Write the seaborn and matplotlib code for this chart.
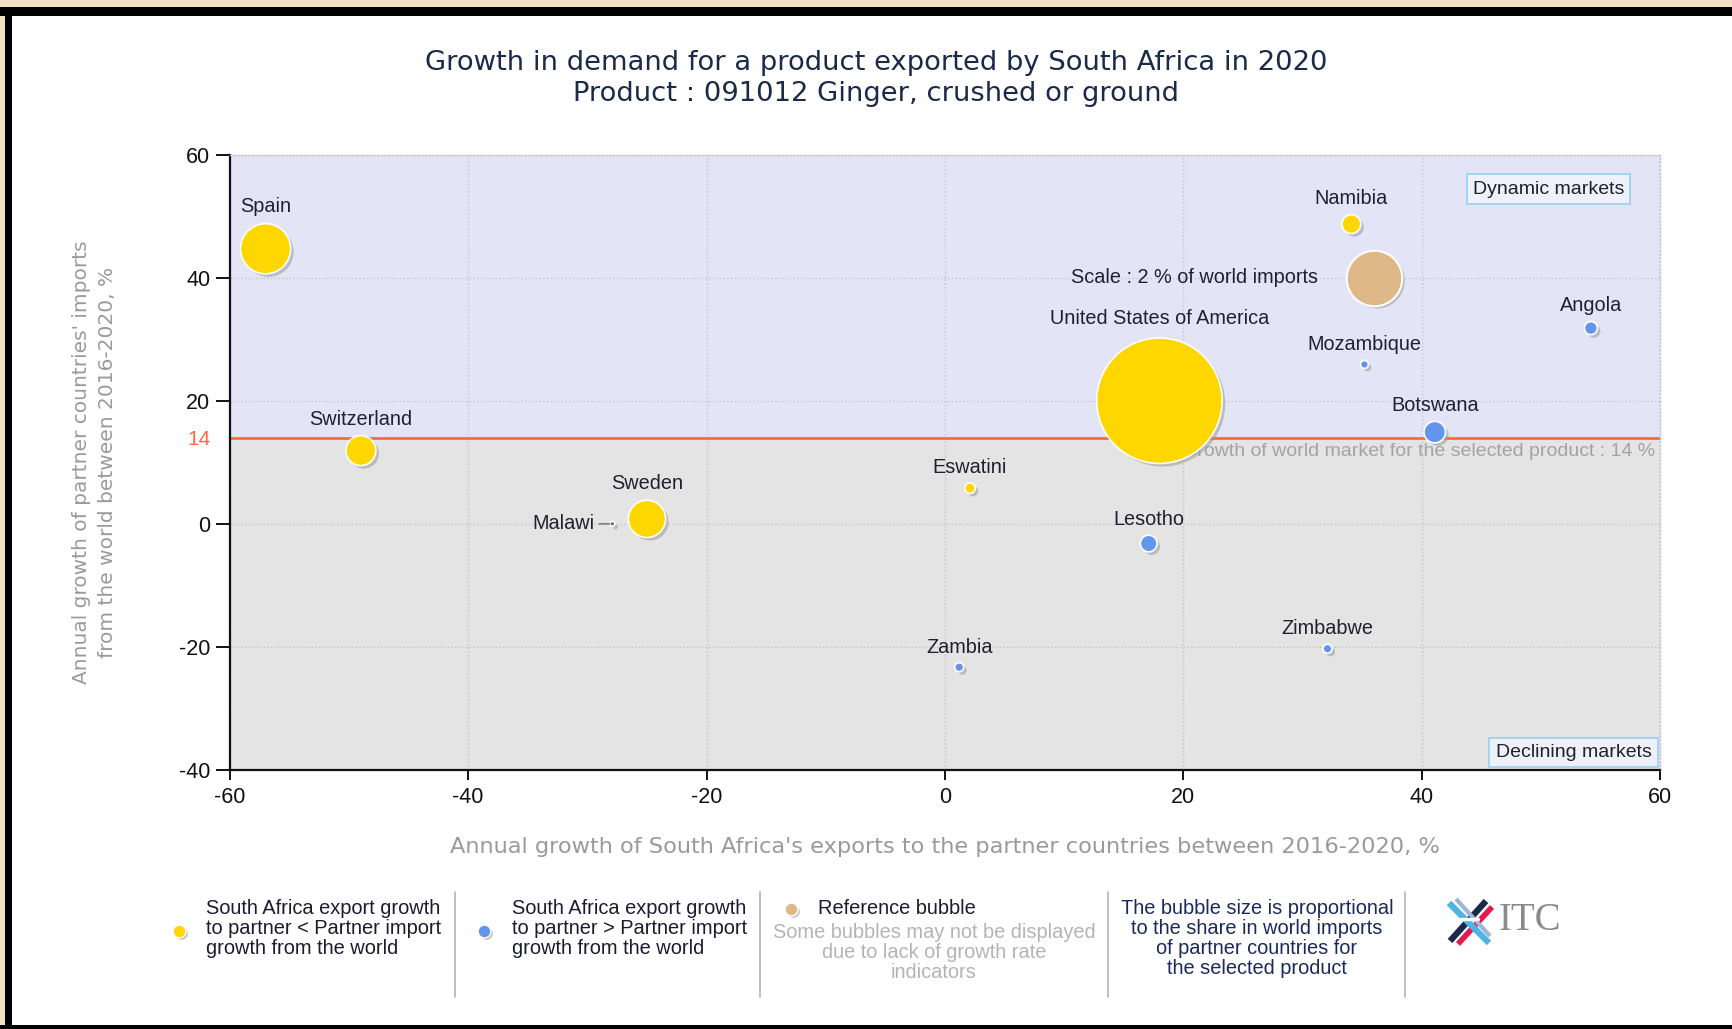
import numpy as np
import pandas as pd
import matplotlib
matplotlib.use("Agg")
import matplotlib.pyplot as plt
import matplotlib.transforms as mtransforms
from matplotlib.patches import Rectangle
import seaborn as sns

# ---- data -------------------------------------------------------------
countries = ["United States of America", "Spain", "Sweden", "Switzerland",
             "Botswana", "Namibia", "Lesotho", "Angola", "Eswatini",
             "Zambia", "Zimbabwe", "Mozambique", "Malawi"]
export_growth = [18.0, -57.0, -25.0, -49.0, 41.1, 34.1, 17.1, 54.2, 2.1,
                 1.2, 32.1, 35.2, -27.9]
import_growth = [20.0, 44.7, 0.8, 11.9, 14.9, 48.7, -3.2, 31.8, 5.8,
                 -23.3, -20.3, 25.9, 0.0]
world_share = [10.2, 1.63, 0.90, 0.58, 0.30, 0.23, 0.18, 0.11, 0.073,
               0.052, 0.052, 0.041, 0.016]
group = ["lt", "lt", "lt", "lt", "gt", "lt", "gt", "gt", "lt",
         "gt", "gt", "gt", "na"]

ref_x, ref_y, ref_share = [36.0], [40.0], [2.0]
world_growth = 14

x_ticks = [-60, -40, -20, 0, 20, 40, 60]
y_ticks = [-40, -20, 0, 14, 20, 40, 60]

# ---- styling ------------------------------------------------------------
sns.set_style("ticks")
plt.rcParams["font.family"] = ["Liberation Sans", "DejaVu Sans"]

YELLOW = "#FFD700"
BLUE = "#6495ED"
TAN = "#DEB887"
GREYDOT = "#707080"
UPPER_BG = "#E4E4F7"
LOWER_BG = "#E4E4E4"
REDLINE = "#FF6A3D"
LABEL_C = "#20202e"

PT_PER_SHARE = 800.0          # marker area (pt^2) per % of world imports
SIZE_NORM = (0, 12)
SIZE_RANGE = (0, PT_PER_SHARE * 12)

df = pd.DataFrame({"country": countries, "export": export_growth,
                   "import": import_growth, "share": world_share,
                   "group": group})
df = df.sort_values("share", ascending=False)
ref = pd.DataFrame({"export": ref_x, "import": ref_y, "share": ref_share})

fig = plt.figure(figsize=(17.32, 10.29), dpi=100, facecolor="white")

# pixel-space canvas for frame, legend and logo
deco = fig.add_axes([0, 0, 1, 1], zorder=0)
deco.set_xlim(0, 1732)
deco.set_ylim(1029, 0)
deco.axis("off")

ax = fig.add_axes([0.13268, 0.25170, 0.82575, 0.59806], zorder=1)
ax.set_xlim(-60, 60)
ax.set_ylim(-40, 60)
ax.set_facecolor(LOWER_BG)
ax.axhspan(world_growth, 60, color=UPPER_BG, zorder=0, lw=0)
ax.axhline(world_growth, color=REDLINE, lw=2, zorder=1)

ax.set_xticks(x_ticks)
ax.set_yticks(y_ticks)
ax.grid(True, linestyle=":", color="#c4c4c4", lw=1, zorder=0.5)
ax.set_axisbelow(True)
for side in ["top", "right"]:
    ax.spines[side].set_linestyle(":")
    ax.spines[side].set_color("#c4c4c4")
    ax.spines[side].set_linewidth(1)
for side in ["left", "bottom"]:
    ax.spines[side].set_color("#111111")
    ax.spines[side].set_linewidth(1.6)
ax.tick_params(axis="y", length=10, width=1.4, color="#111111",
               labelsize=15.5, pad=4, labelcolor="#111111")
ax.tick_params(axis="x", length=7, width=1.4, color="#111111",
               labelsize=15.5, pad=5, labelcolor="#111111")
ax.set_xticklabels([str(t) for t in x_ticks])
ax.set_yticklabels([str(t) for t in y_ticks])
for tick in ax.yaxis.get_major_ticks():
    if tick.get_loc() == world_growth:
        tick.tick1line.set_visible(False)
        tick.gridline.set_visible(False)
        tick.label1.set_color(REDLINE)
        tick.label1.set_fontsize(15)

ax.text(59.6, world_growth - 0.9,
        "Growth of world market for the selected product : 14 %",
        ha="right", va="top", fontsize=14, color="#a4a4a4", zorder=1.5)

# drop shadows under the bubbles
shadow_tr = ax.transData + mtransforms.ScaledTranslation(
    2.2 / 72, -2.2 / 72, fig.dpi_scale_trans)

for data in (ref, df):
    sns.scatterplot(data=data, x="export", y="import", size="share",
                    sizes=SIZE_RANGE, size_norm=SIZE_NORM, color="#9a9a9a",
                    alpha=0.55, edgecolor="none", legend=False, ax=ax,
                    transform=shadow_tr, zorder=2)

sns.scatterplot(data=ref, x="export", y="import", size="share",
                sizes=SIZE_RANGE, size_norm=SIZE_NORM, color=TAN,
                edgecolor="white", linewidth=1.5, legend=False, ax=ax,
                zorder=3)
sns.scatterplot(data=df, x="export", y="import", size="share",
                sizes=SIZE_RANGE, size_norm=SIZE_NORM, hue="group",
                hue_order=["lt", "gt", "na"],
                palette={"lt": YELLOW, "gt": BLUE, "na": GREYDOT},
                edgecolor="white", linewidth=1.2, legend=False, ax=ax,
                zorder=3)
ax.set_xlabel("")
ax.set_ylabel("")


def radius_pt(share):
    return np.sqrt(share * PT_PER_SHARE) / 2.0


for _, row in df.iterrows():
    r = radius_pt(row["share"])
    if row["country"] == "Malawi":
        ax.annotate(row["country"], (row["export"], row["import"]),
                    xytext=(-13, 0), textcoords="offset points",
                    ha="right", va="center", fontsize=14.3, color=LABEL_C,
                    zorder=4,
                    arrowprops=dict(arrowstyle="-", color="#808080", lw=1.2,
                                    shrinkA=1, shrinkB=2))
    else:
        ax.annotate(row["country"], (row["export"], row["import"]),
                    xytext=(0, 1.07 * r + 11), textcoords="offset points",
                    ha="center", va="center", fontsize=14.3, color=LABEL_C,
                    zorder=4)

ax.annotate("Scale : 2 % of world imports", (ref_x[0], ref_y[0]),
            xytext=(-(radius_pt(ref_share[0]) + 20), 0),
            textcoords="offset points", ha="right", va="center",
            fontsize=14.3, color=LABEL_C, zorder=4)

box_style = dict(boxstyle="square,pad=0.32", facecolor="#EEF0FA",
                 edgecolor="#9FD3F2", lw=1.3)
ax.text(0.922, 0.944, "Dynamic markets", transform=ax.transAxes,
        ha="center", va="center", fontsize=14, color=LABEL_C,
        bbox=box_style, zorder=5)
box_style2 = dict(box_style, facecolor="#EEF2F8")
ax.text(0.9395, 0.028, "Declining markets", transform=ax.transAxes,
        ha="center", va="center", fontsize=14, color=LABEL_C,
        bbox=box_style2, zorder=5)

# ---- titles and axis captions ------------------------------------------
TITLE_FONT = ["DejaVu Sans"]
fig.text(0.5058, 0.9385,
         "Growth in demand for a product exported by South Africa in 2020",
         ha="center", va="center", fontsize=19.7, color="#1a2a48",
         family=TITLE_FONT)
fig.text(0.5058, 0.9085, "Product : 091012 Ginger, crushed or ground",
         ha="center", va="center", fontsize=19.7, color="#1a2a48",
         family=TITLE_FONT)
fig.text(945 / 1732, 1 - 847 / 1029,
         "Annual growth of South Africa's exports to the partner countries "
         "between 2016-2020, %",
         ha="center", va="center", fontsize=16.2, color="#9a9a9a",
         family=TITLE_FONT)
fig.text(82 / 1732, 1 - 462 / 1029,
         "Annual growth of partner countries' imports",
         ha="center", va="center", rotation=90, fontsize=14.5,
         color="#9a9a9a", family=TITLE_FONT)
fig.text(108 / 1732, 1 - 462 / 1029,
         "from the world between 2016-2020, %",
         ha="center", va="center", rotation=90, fontsize=14.5,
         color="#9a9a9a", family=TITLE_FONT)

# ---- frame ---------------------------------------------------------------
BEIGE = "#F2E2C2"
deco.add_patch(Rectangle((0, 0), 1732, 7, color=BEIGE, lw=0))
deco.add_patch(Rectangle((0, 0), 5, 1029, color=BEIGE, lw=0))
deco.add_patch(Rectangle((0, 7), 1732, 9, color="black", lw=0))
deco.add_patch(Rectangle((5, 7), 7, 1022, color="black", lw=0))
deco.add_patch(Rectangle((0, 1025), 1732, 4, color="black", lw=0))

# ---- legend strip --------------------------------------------------------
LEG_C = "#1c1c30"
LEG_FS = 14.4
line_y = [908, 929, 949, 969]


def legend_dot(x, y, color):
    deco.scatter([x + 1.8], [y + 1.8], s=85, color="#9a9a9a", alpha=0.55,
                 lw=0)
    deco.scatter([x], [y], s=85, color=color, edgecolor="white", lw=1)


legend_dot(179, 931, YELLOW)
for yy, txt in zip(line_y, ["South Africa export growth",
                            "to partner < Partner import",
                            "growth from the world"]):
    deco.text(206, yy, txt, ha="left", va="center", fontsize=LEG_FS,
              color=LEG_C)

legend_dot(484, 931, BLUE)
for yy, txt in zip(line_y, ["South Africa export growth",
                            "to partner > Partner import",
                            "growth from the world"]):
    deco.text(512, yy, txt, ha="left", va="center", fontsize=LEG_FS,
              color=LEG_C)

legend_dot(791, 909, TAN)
deco.text(818, 909, "Reference bubble", ha="left", va="center",
          fontsize=LEG_FS, color=LEG_C)
for yy, txt in zip([932, 952, 972], ["Some bubbles may not be displayed",
                                     "due to lack of growth rate",
                                     "indicators"]):
    deco.text(934, yy, txt, ha="center", va="center", fontsize=LEG_FS,
              color="#b4b4b4")

for yy, txt in zip(line_y, ["The bubble size is proportional",
                            "to the share in world imports",
                            "of partner countries for",
                            "the selected product"]):
    deco.text(1257, yy, txt, ha="center", va="center", fontsize=LEG_FS,
              color="#1a2a5a")

for sx in [455, 760, 1108, 1405]:
    deco.plot([sx, sx], [892, 997], color="#b4b4b4", lw=1.2)

# ITC logo
deco.plot([1450, 1486], [941, 901], color="#1b2a4a", lw=4.5,
          solid_capstyle="butt")
deco.plot([1458, 1492], [944, 907], color="#E8174B", lw=4,
          solid_capstyle="butt")
deco.plot([1449, 1489], [903, 943], color="#4FB3E8", lw=4.5,
          solid_capstyle="butt")
deco.plot([1456, 1490], [899, 936], color="#9bb6d6", lw=3,
          solid_capstyle="butt")
deco.plot([1461, 1478], [919, 919], color="white", lw=2.5)
deco.text(1530, 921, "ITC", ha="center", va="center", fontsize=28,
          color="#8a8a8a", family=["Liberation Serif", "DejaVu Serif"])

fig.savefig("out.png", dpi=100, facecolor="white")
